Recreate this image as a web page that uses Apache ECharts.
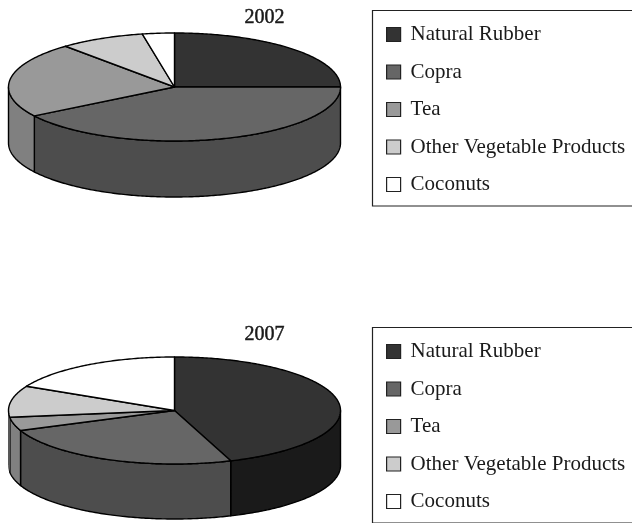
<!DOCTYPE html>
<html>
<head>
<meta charset="utf-8">
<style>html,body{margin:0;padding:0;background:#fff}#c{width:632px;height:523px}</style>
<script src="https://cdn.jsdelivr.net/npm/echarts@6/dist/echarts.min.js"></script>
</head>
<body>
<div id="c"></div>
<script>
var categories = ['Natural Rubber', 'Copra', 'Tea', 'Other Vegetable Products', 'Coconuts'];
var values2002 = [25, 41, 22.6, 8.3, 3.1];
var values2007 = [44.5, 24.4, 4.1, 9.5, 17.5];
var topColors = ['#333333', '#666666', '#999999', '#cccccc', '#ffffff'];
var sideColors = ['#1a1a1a', '#4d4d4d', '#808080', '#b3b3b3', '#e6e6e6'];

var FONT = '"Liberation Serif", serif';
var chart = echarts.init(document.getElementById('c'), null, {renderer: 'canvas'});

function point(g, deg, dy) {
  var r = deg * Math.PI / 180;
  return [g.cx + g.rx * Math.sin(r), g.cy - g.ry * Math.cos(r) + (dy || 0)];
}
function arc(g, a, b, dy) {
  var pts = [], n = Math.max(2, Math.ceil(Math.abs(b - a) / 0.75));
  for (var i = 0; i <= n; i++) pts.push(point(g, a + (b - a) * i / n, dy));
  return pts;
}
function pieSeries(values, g) {
  var total = values.reduce(function (s, v) { return s + v; }, 0);
  var cum = 0;
  return values.map(function (v, i) {
    var start = cum / total * 360;
    cum += v;
    var end = cum / total * 360;
    return {
      type: 'custom',
      name: categories[i],
      coordinateSystem: 'none',
      silent: true,
      animation: false,
      itemStyle: {color: topColors[i]},
      data: [[v]],
      renderItem: function () {
        var kids = [];
        var a = Math.max(start, 90), b = Math.min(end, 270);
        if (b > a) {
          var side = arc(g, a, b, 0).concat(arc(g, b, a, g.depth));
          kids.push({
            type: 'polygon', z2: 1,
            shape: {points: side},
            style: {fill: sideColors[i], stroke: '#000', lineWidth: (b - a) < 12 ? 0.6 : 1.4, lineJoin: 'round'}
          });
        }
        kids.push({
          type: 'polygon', z2: 2,
          shape: {points: [[g.cx, g.cy]].concat(arc(g, start, end, 0))},
          style: {fill: topColors[i], stroke: '#000', lineWidth: 1.4, lineJoin: 'round'}
        });
        return {type: 'group', children: kids};
      }
    };
  });
}
function legendFor(top) {
  return {
    orient: 'vertical', left: 386, top: top, padding: 0,
    itemWidth: 14, itemHeight: 14, itemGap: 16.5,
    icon: 'rect', selectedMode: false,
    itemStyle: {borderColor: '#222', borderWidth: 1.2},
    textStyle: {fontFamily: FONT, fontSize: 21, color: '#1a1a1a', padding: [0, 0, 0, 5]},
    data: categories
  };
}
function titleFor(text, top) {
  return {
    text: text, left: 264.5, top: top, textAlign: 'center', padding: 0,
    textStyle: {fontFamily: FONT, fontSize: 20, fontWeight: 'normal', color: '#1a1a1a',
                textBorderColor: '#1a1a1a', textBorderWidth: 0.5}
  };
}
var g2002 = {cx: 174.5, cy: 87, rx: 166, ry: 54, depth: 56};
var g2007 = {cx: 174.5, cy: 410.5, rx: 166, ry: 53.5, depth: 55};

chart.setOption({
  animation: false,
  backgroundColor: '#fff',
  title: [titleFor('2002', 8), titleFor('2007', 325)],
  legend: [legendFor(24), legendFor(341)],
  graphic: [
    {type: 'rect', silent: true, shape: {x: 372.5, y: 10.5, width: 300, height: 195.5},
     style: {fill: 'none', stroke: '#222', lineWidth: 1.2}},
    {type: 'rect', silent: true, shape: {x: 372.5, y: 327.5, width: 300, height: 195.5},
     style: {fill: 'none', stroke: '#222', lineWidth: 1.2}}
  ],
  series: pieSeries(values2002, g2002).concat(pieSeries(values2007, g2007))
});
</script>
</body>
</html>
